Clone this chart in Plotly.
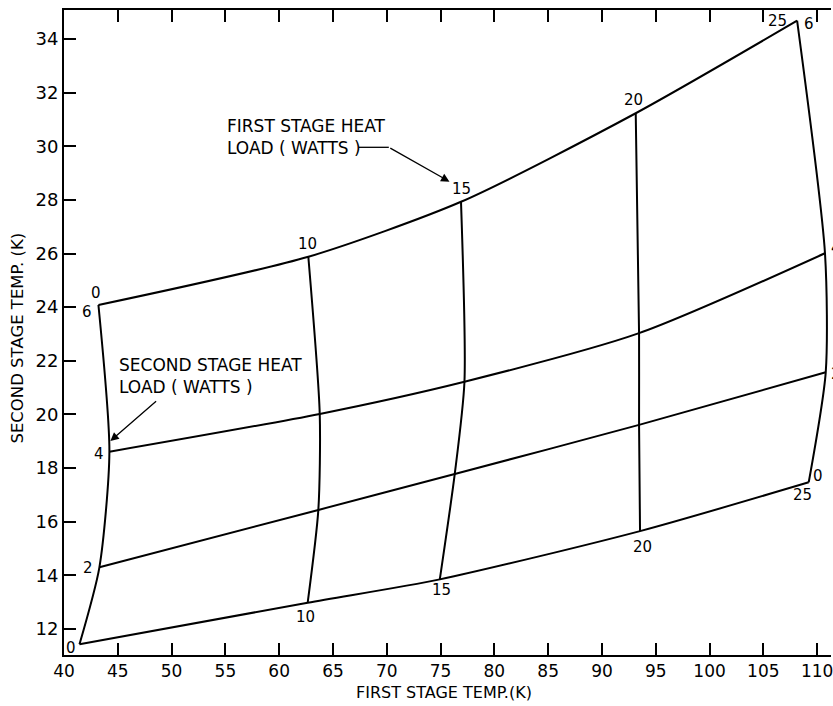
import plotly.graph_objects as go

# ---- data ----
Q1_LOADS = [0, 10, 15, 20, 25]          # first stage heat load (W)
Q2_LOADS = [0, 2, 4, 6]                 # second stage heat load (W)

# first stage temperature (K) at each grid node: rows = Q2, cols = Q1
T1 = [
    [41.44, 62.65, 74.93, 93.54, 109.22],   # Q2 = 0
    [43.29, 63.64, 76.32, 93.45, 110.80],   # Q2 = 2
    [44.22, 63.77, 77.22, 93.45, 110.73],   # Q2 = 4
    [43.20, 62.71, 76.90, 93.14, 108.14],   # Q2 = 6
]
# second stage temperature (K) at each grid node
T2 = [
    [11.43, 12.98, 13.85, 15.65, 17.47],
    [14.30, 16.44, 17.78, 19.61, 21.57],
    [18.61, 20.02, 21.22, 23.03, 26.01],
    [24.08, 25.88, 27.93, 31.23, 34.68],
]

X_TICKS = list(range(40, 111, 5))
Y_TICKS = list(range(12, 35, 2))

FONT = "DejaVu Sans"
LINE = dict(color="black", width=2, shape="spline", smoothing=0.7)

fig = go.Figure()

# constant second-stage-load lines
for i, q2 in enumerate(Q2_LOADS):
    fig.add_trace(go.Scatter(x=T1[i], y=T2[i], mode="lines", line=LINE,
                             hoverinfo="skip", showlegend=False))
# constant first-stage-load lines
for j, q1 in enumerate(Q1_LOADS):
    xs = [T1[i][j] for i in range(len(Q2_LOADS))]
    ys = [T2[i][j] for i in range(len(Q2_LOADS))]
    fig.add_trace(go.Scatter(x=xs, y=ys, mode="lines", line=LINE,
                             hoverinfo="skip", showlegend=False))

ann = []
def node_label(i, j, text, dx, dy):
    ann.append(dict(x=T1[i][j], y=T2[i][j], xref="x", yref="y", text=text,
                    showarrow=False, xshift=dx, yshift=dy,
                    xanchor="center", yanchor="middle",
                    font=dict(family=FONT, size=15, color="black")))

# labels of second stage loads along Q1 = 0 line
node_label(3, 0, "0", -2, 12)
node_label(3, 0, "6", -11, -7)
node_label(2, 0, "4", -10, -2)
node_label(1, 0, "2", -11, -1)
node_label(0, 0, "0", -8, -4)
# first stage loads along bottom (Q2 = 0)
node_label(0, 1, "10", -2, -14)
node_label(0, 2, "15", 2, -11)
node_label(0, 3, "20", 2, -16)
node_label(0, 4, "25", -6, -13)
node_label(0, 4, "0", 9, 6)
# first stage loads along top (Q2 = 6)
node_label(3, 1, "10", -1, 13)
node_label(3, 2, "15", 0, 13)
node_label(3, 3, "20", -2, 13)
node_label(3, 4, "25", -20, 0)
node_label(3, 4, "6", 12, -3)
# right side (partly cut off, as in the original)
node_label(2, 4, "4", 11, 5)
node_label(1, 4, "2", 10, -2)

TXT = dict(family=FONT, size=17, color="black")
ann.append(dict(x=55.0, y=30.33, xref="x", yref="y", xanchor="left",
                yanchor="middle", align="left", showarrow=False,
                text="FIRST STAGE HEAT<br>LOAD ( WATTS )", font=TXT))
ann.append(dict(x=44.95, y=21.42, xref="x", yref="y", xanchor="left",
                yanchor="middle", align="left", showarrow=False,
                text="SECOND STAGE HEAT<br>LOAD ( WATTS )", font=TXT))
# callout arrows
ann.append(dict(x=75.83, y=28.68, ax=70.19, ay=29.96, xref="x", yref="y",
                axref="x", ayref="y", text="", showarrow=True, arrowhead=2,
                arrowsize=1.3, arrowwidth=1.3, arrowcolor="black", standoff=0))
ann.append(dict(x=44.31, y=19.01, ax=48.70, ay=20.54, xref="x", yref="y",
                axref="x", ayref="y", text="", showarrow=True, arrowhead=2,
                arrowsize=1.3, arrowwidth=1.3, arrowcolor="black", standoff=0))
# axis titles
ann.append(dict(x=-0.0605, y=0.4915, xref="paper", yref="paper",
                xanchor="center", yanchor="middle",
                text="SECOND STAGE TEMP. (K)", textangle=-90, showarrow=False,
                font=dict(family=FONT, size=16.5, color="black")))
ann.append(dict(x=0.495, y=-0.058, xref="paper", yref="paper",
                xanchor="center", yanchor="middle",
                text="FIRST STAGE TEMP.(K)", showarrow=False,
                font=dict(family=FONT, size=16, color="black")))

fig.add_shape(type="line", x0=67.41, y0=29.96, x1=70.19, y1=29.96,
              xref="x", yref="y", line=dict(color="black", width=1.3))

fig.update_layout(
    width=833, height=706,
    margin=dict(l=64, r=0, t=10, b=51),
    paper_bgcolor="white", plot_bgcolor="white",
    annotations=ann,
    font=dict(family=FONT, color="black"),
)
fig.update_xaxes(range=[40, 111.29], tickvals=X_TICKS, ticks="inside",
                 ticklen=12, tickwidth=1.5, tickcolor="black",
                 showline=True, linewidth=2, linecolor="black", mirror="ticks",
                 showgrid=False, zeroline=False, ticklabeloverflow="allow",
                 ticklabelstandoff=0,
                 tickfont=dict(family=FONT, size=17, color="black"))
fig.update_yaxes(range=[11.03, 35.08], tickvals=Y_TICKS, ticks="inside",
                 ticklen=12, tickwidth=1.5, tickcolor="black",
                 showline=True, linewidth=2, linecolor="black", mirror=False,
                 showgrid=False, zeroline=False, ticklabeloverflow="allow",
                 tickfont=dict(family=FONT, size=18, color="black"))

fig.write_html("out.html", config={"displayModeBar": False},
               post_script="document.body.style.margin='0';"
                           "document.body.style.overflow='hidden';")
